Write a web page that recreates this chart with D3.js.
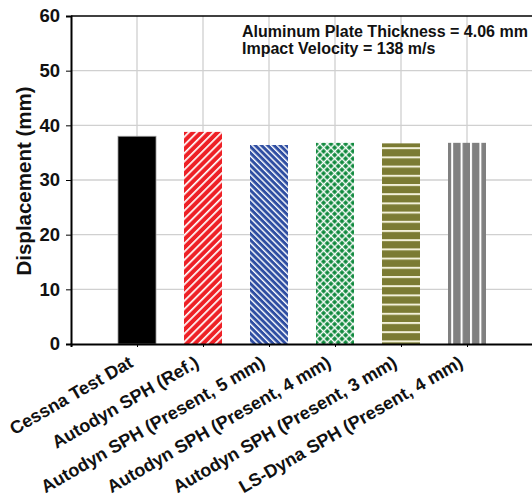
<!DOCTYPE html>
<html><head><meta charset="utf-8">
<script src="https://cdn.jsdelivr.net/npm/d3@7"></script>
<style>body{margin:0;background:#fff;} svg{display:block;font-family:"Liberation Sans",Arial,sans-serif;}</style>
</head><body>
<svg id="c" width="532" height="497"></svg>
<script>
const categories = ["Cessna Test Dat","Autodyn SPH (Ref.)","Autodyn SPH (Present, 5 mm)","Autodyn SPH (Present, 4 mm)","Autodyn SPH (Present, 3 mm)","LS-Dyna SPH (Present, 4 mm)"];
const values = [38.0, 38.8, 36.4, 36.8, 36.7, 36.8];
const yTicks = [0,10,20,30,40,50,60];
const annotation = ["Aluminum Plate Thickness = 4.06 mm","Impact Velocity = 138 m/s"];
const yTitle = "Displacement (mm)";

const svg = d3.select("#c");
const L = 71, R = 533, T = 16, B = 344;
const x = d3.scaleLinear().domain([0, 7]).range([L, R]);
const y = d3.scaleLinear().domain([0, 60]).range([B, T]);
const bw = 38;

const defs = svg.append("defs");
function stripe(id, bg, size, rot, lw, col) {
  const p = defs.append("pattern").attr("id", id).attr("patternUnits","userSpaceOnUse")
    .attr("width", size).attr("height", size).attr("patternTransform", `rotate(${rot})`);
  p.append("rect").attr("width", size).attr("height", size).attr("fill", bg);
  p.append("rect").attr("x", 0).attr("y", 0).attr("width", lw).attr("height", size).attr("fill", col);
}
stripe("pRed", "#ee2026", 5.8, 45, 1.7, "#fff");
stripe("pBlue", "#2f4ea2", 4.4, -45, 1.4, "#fff");
stripe("pOlive", "#7b7b33", 9.2, 90, 2, "#f2f0d8");
stripe("pGray", "#808080", 9.4, 0, 2, "#fff");
// green crosshatch
(function(){
  const s = 5.2;
  const p = defs.append("pattern").attr("id","pGreen").attr("patternUnits","userSpaceOnUse")
    .attr("width", s).attr("height", s).attr("patternTransform","rotate(45)");
  p.append("rect").attr("width", s).attr("height", s).attr("fill","#fff");
  p.append("rect").attr("x",1.1).attr("y",1.1).attr("width", s-1.4).attr("height", s-1.4).attr("fill","#118a3e");
})();
const fills = ["#000","url(#pRed)","url(#pBlue)","url(#pGreen)","url(#pOlive)","url(#pGray)"];

// gridlines
svg.append("g").selectAll("line.h").data(yTicks.filter(d => d > 0 && d < 60)).join("line")
  .attr("x1", L).attr("x2", R).attr("y1", d => y(d)).attr("y2", d => y(d))
  .attr("stroke", "#d0d0d0").attr("stroke-width", 1.3);
svg.append("g").selectAll("line.v").data(d3.range(1, 7)).join("line")
  .attr("x1", d => x(d)).attr("x2", d => x(d)).attr("y1", T).attr("y2", B)
  .attr("stroke", "#d0d0d0").attr("stroke-width", 1.3);

// bars
svg.append("g").selectAll("rect").data(values).join("rect")
  .attr("x", (d, i) => x(i + 1) - bw / 2).attr("width", bw)
  .attr("y", d => y(d)).attr("height", d => B - y(d))
  .attr("fill", (d, i) => fills[i])
  .attr("stroke", (d, i) => i === 0 ? "#999" : "none").attr("stroke-width", 0.8);

// axes
svg.append("line").attr("x1", L).attr("x2", R).attr("y1", T).attr("y2", T).attr("stroke", "#000").attr("stroke-width", 1.5);
const ya = svg.append("g").attr("transform", `translate(${L},0)`)
  .call(d3.axisLeft(y).tickValues(yTicks).tickSize(5).tickPadding(6));
ya.select(".domain").attr("stroke-width", 2);
ya.selectAll("text").attr("font-size", 18.5).attr("font-weight", "bold").attr("fill", "#111")
  .attr("font-family", "Liberation Sans, Arial, sans-serif");
const xa = svg.append("g").attr("transform", `translate(0,${B})`)
  .call(d3.axisBottom(x).tickValues(d3.range(1, 7)).tickSize(3).tickFormat(""));
xa.select(".domain").attr("stroke-width", 2);

// x labels
svg.append("g").selectAll("text").data(categories).join("text")
  .attr("transform", (d, i) => `translate(${x(i + 1) - 9},${B + 11}) rotate(-30)`)
  .attr("text-anchor", "end").attr("dy", "0.7em")
  .attr("font-size", 18).attr("font-weight", "bold").attr("fill", "#111").text(d => d);

// y title
svg.append("text").attr("transform", `translate(31,181) rotate(-90)`)
  .attr("text-anchor", "middle").attr("font-size", 20.5).attr("font-weight", "bold").attr("fill", "#111").text(yTitle);

// annotation
svg.append("g").selectAll("text").data(annotation).join("text")
  .attr("x", 242).attr("y", (d, i) => 37 + i * 16.5)
  .attr("font-size", 16).attr("font-weight", "bold").attr("fill", "#111").text(d => d);
</script>
</body></html>
